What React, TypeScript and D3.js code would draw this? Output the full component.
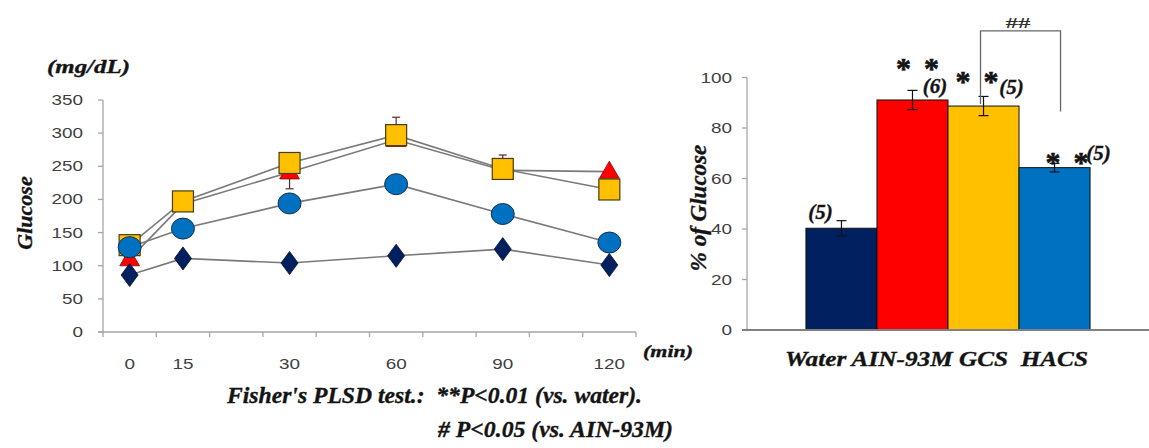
import React from "react";
import * as d3 from "d3";

// ---------- data: left chart (blood glucose, mg/dL) ----------
const timeSlots = ["0", "15", "", "30", "", "60", "", "90", "", "120"];
const times = [0, 15, 30, 60, 90, 120];
const waterGlu = [86, 111, 104, 115, 125, 101];
const ainGlu = [110, 193, 241, 290, 244, 242];
const gcsGlu = [131, 197, 255, 297, 246, 215];
const hacsGlu = [128, 156, 194, 223, 178, 135];
const ainErrPlus = [0, 0, 0, 34, 23, 0];
const ainErrMinus = [0, 0, 25, 0, 0, 0];
const gluTicks = [0, 50, 100, 150, 200, 250, 300, 350];

// ---------- data: right chart (% of glucose) ----------
const groups = ["Water", "AIN-93M", "GCS", "HACS"];
const pctGlucose = [40.3, 91.1, 88.7, 64.3];
const pctErr = [3.0, 3.8, 3.8, 1.7];
const nLabels = ["(5)", "(6)", "(5)", "(5)"];
const sigLabels = ["", "**", "**", "**"];
const pctTicks = [0, 20, 40, 60, 80, 100];

const SERIF = "'Liberation Serif', 'Times New Roman', serif";
const SANS = "'Liberation Sans', Arial, sans-serif";
const AXIS = "#a6a6a6";
const LINE = "#7a7a7a";
const INK = "#141414";

const NAVY = "#002060";
const RED = "#ff0000";
const GOLD = "#ffc000";
const BLUE = "#0070c0";

const bi = {
  fontFamily: SERIF,
  fontStyle: "italic" as const,
  fontWeight: "bold" as const,
  fill: INK,
  stroke: INK,
  strokeWidth: 0.35,
};

export default function App() {
  // left chart scales
  const x = d3.scaleBand<number>().domain(d3.range(timeSlots.length)).range([103, 636]);
  const y = d3.scaleLinear().domain([0, 350]).range([332, 100]);
  const cx = (t: number) => (x(timeSlots.indexOf(String(t))) as number) + x.bandwidth() / 2;
  const line = d3
    .line<number>()
    .x((_, i) => cx(times[i]))
    .y((d) => y(d));

  // right chart scales
  const yb = d3.scaleLinear().domain([0, 100]).range([330, 77.5]);
  const xb = d3.scaleBand<string>().domain(groups).range([747, 1149]).paddingOuter(0.83);
  const barColors = [NAVY, RED, GOLD, BLUE];
  const bcx = (g: string) => (xb(g) as number) + xb.bandwidth() / 2;

  const diamond = d3.symbol(d3.symbolDiamond, 190)();
  const triangle = d3.symbol(d3.symbolTriangle, 170)();

  const ainIdx = groups.indexOf("AIN-93M");
  // annotation offsets (layout) relative to bar centre / error-bar top
  const nOff = [
    [-21, -2],
    [22.5, 3],
    [28, -2],
    [44, -3],
  ];
  const sOff = [
    [0, 0],
    [5, -12],
    [-6.5, -5],
    [12.5, 8.7],
  ];

  return (
    <svg
      width={1149}
      height={448}
      style={{ position: "absolute", left: 0, top: 0, background: "#fff" }}
    >
      {/* ================= LEFT CHART ================= */}
      <text x={47} y={73} fontSize={19} textLength={83} lengthAdjust="spacingAndGlyphs" {...bi}>
        (mg/dL)
      </text>
      <text
        transform={`translate(32,213) rotate(-90)`}
        textAnchor="middle"
        fontSize={22}
        {...bi}
      >
        Glucose
      </text>

      {/* y axis */}
      <line x1={103} x2={103} y1={y(350)} y2={y(0)} stroke={AXIS} strokeWidth={1.3} />
      {gluTicks.map((t) => (
        <g key={"gy" + t}>
          <line x1={98} x2={103} y1={y(t)} y2={y(t)} stroke={AXIS} strokeWidth={1.3} />
          <text
            transform={`translate(83,${y(t) + 5}) scale(1.35,1)`}
            textAnchor="end"
            fontFamily={SANS}
            fontSize={14}
            fill="#404040"
          >
            {t}
          </text>
        </g>
      ))}

      {/* x axis */}
      <line x1={98} x2={636} y1={y(0)} y2={y(0)} stroke={AXIS} strokeWidth={1.3} />
      {d3.range(timeSlots.length + 1).map((i) => {
        const xx = 103 + i * x.step();
        return <line key={"xt" + i} x1={xx} x2={xx} y1={y(0)} y2={y(0) + 5} stroke={AXIS} strokeWidth={1.3} />;
      })}
      {timeSlots.map((s, i) =>
        s ? (
          <text
            key={"xl" + i}
            transform={`translate(${(x(i) as number) + x.bandwidth() / 2},369) scale(1.35,1)`}
            textAnchor="middle"
            fontFamily={SANS}
            fontSize={14}
            fill="#404040"
          >
            {s}
          </text>
        ) : null
      )}
      <text x={643} y={357} fontSize={16} textLength={50} lengthAdjust="spacingAndGlyphs" {...bi}>
        (min)
      </text>

      {/* lines */}
      {[ainGlu, gcsGlu, hacsGlu, waterGlu].map((s, k) => (
        <path key={"ln" + k} d={line(s) as string} fill="none" stroke={LINE} strokeWidth={1.6} />
      ))}

      {/* AIN-93M error bars */}
      {times.map((t, i) => (
        <g key={"eb" + i} stroke="#5a2a2a" strokeWidth={1.2}>
          {ainErrPlus[i] > 0 && (
            <>
              <line x1={cx(t)} x2={cx(t)} y1={y(ainGlu[i])} y2={y(ainGlu[i] + ainErrPlus[i])} />
              <line x1={cx(t) - 4} x2={cx(t) + 4} y1={y(ainGlu[i] + ainErrPlus[i])} y2={y(ainGlu[i] + ainErrPlus[i])} />
            </>
          )}
          {ainErrMinus[i] > 0 && (
            <>
              <line x1={cx(t)} x2={cx(t)} y1={y(ainGlu[i])} y2={y(ainGlu[i] - ainErrMinus[i])} />
              <line x1={cx(t) - 4} x2={cx(t) + 4} y1={y(ainGlu[i] - ainErrMinus[i])} y2={y(ainGlu[i] - ainErrMinus[i])} />
            </>
          )}
        </g>
      ))}

      {/* markers */}
      {times.map((t, i) => (
        <path
          key={"tri" + i}
          d={triangle as string}
          transform={`translate(${cx(t)},${y(ainGlu[i]) + 1})`}
          fill={RED}
          stroke="#7a1010"
          strokeWidth={0.8}
        />
      ))}
      {times.map((t, i) => (
        <rect
          key={"sq" + i}
          x={cx(t) - 10.5}
          y={y(gcsGlu[i]) - 10.5}
          width={21}
          height={21}
          fill={GOLD}
          stroke="#4a3a10"
          strokeWidth={1.2}
        />
      ))}
      {times.map((t, i) => (
        <ellipse
          key={"ci" + i}
          cx={cx(t)}
          cy={y(hacsGlu[i])}
          rx={11.5}
          ry={10.5}
          fill={BLUE}
          stroke="#1a3050"
          strokeWidth={1}
        />
      ))}
      {times.map((t, i) => (
        <path
          key={"di" + i}
          d={diamond as string}
          transform={`translate(${cx(t)},${y(waterGlu[i])}) scale(1.15,0.9)`}
          fill={NAVY}
          stroke="#0a0f2a"
          strokeWidth={0.8}
        />
      ))}

      {/* ================= RIGHT CHART ================= */}
      <text
        transform={`translate(706,208) rotate(-90)`}
        textAnchor="middle"
        fontSize={23}
        {...bi}
      >
        % of Glucose
      </text>
      <line x1={747} x2={747} y1={yb(100)} y2={yb(0)} stroke={AXIS} strokeWidth={1.3} />
      {pctTicks.map((t) => (
        <g key={"py" + t}>
          <line x1={742} x2={747} y1={yb(t)} y2={yb(t)} stroke={AXIS} strokeWidth={1.3} />
          <text
            transform={`translate(732,${yb(t) + 5}) scale(1.35,1)`}
            textAnchor="end"
            fontFamily={SANS}
            fontSize={14}
            fill="#404040"
          >
            {t}
          </text>
        </g>
      ))}

      {groups.map((g, i) => (
        <rect
          key={"bar" + g}
          x={xb(g)}
          y={yb(pctGlucose[i])}
          width={xb.bandwidth()}
          height={yb(0) - yb(pctGlucose[i])}
          fill={barColors[i]}
          stroke="#111"
          strokeWidth={1}
        />
      ))}
      <line x1={742} x2={1149} y1={yb(0)} y2={yb(0)} stroke="#808080" strokeWidth={2} />

      {groups.map((g, i) => {
        const c = bcx(g);
        const top = yb(pctGlucose[i] + pctErr[i]);
        const bot = yb(pctGlucose[i] - pctErr[i]);
        return (
          <g key={"be" + g} stroke="#111" strokeWidth={1.2}>
            <line x1={c} x2={c} y1={top} y2={bot} />
            <line x1={c - 5} x2={c + 5} y1={top} y2={top} />
            <line x1={c - 5} x2={c + 5} y1={bot} y2={bot} />
          </g>
        );
      })}

      {groups.map((g, i) => (
        <text
          key={"n" + g}
          x={bcx(g) + nOff[i][0]}
          y={yb(pctGlucose[i] + pctErr[i]) + nOff[i][1]}
          textAnchor="middle"
          fontSize={21}
          {...bi}
        >
          {nLabels[i]}
        </text>
      ))}
      {groups.map((g, i) =>
        sigLabels[i]
          ? sigLabels[i].split("").map((s, k) => (
              <text
                key={"s" + g + k}
                x={bcx(g) + sOff[i][0] + (k - 0.5) * 28}
                y={yb(pctGlucose[i] + pctErr[i]) + sOff[i][1]}
                textAnchor="middle"
                fontFamily={SERIF}
                fontWeight="bold"
                fontSize={30}
                fill={INK}
                stroke={INK}
                strokeWidth={0.6}
              >
                {s}
              </text>
            ))
          : null
      )}

      {/* significance bracket GCS vs HACS */}
      <path
        d={`M${bcx("GCS") - 3},${yb(89.5)} V${yb(118.5)} H${bcx("HACS") + 6} V${yb(86.5)}`}
        fill="none"
        stroke="#666"
        strokeWidth={1.3}
      />
      <text
        x={(bcx("GCS") + bcx("HACS")) / 2 - 1}
        y={28}
        textAnchor="middle"
        fontFamily={SERIF}
        fontWeight="bold"
        fontSize={15}
        textLength={25}
        lengthAdjust="spacingAndGlyphs"
        fill="#333"
      >
        ##
      </text>

      <text
        x={785}
        y={366}
        fontSize={22}
        textLength={303}
        lengthAdjust="spacingAndGlyphs"
        style={{ whiteSpace: "pre" }}
        {...bi}
      >
        {groups.slice(0, 3).join(" ") + "  " + groups[3]}
      </text>

      {/* footer */}
      <text
        x={227}
        y={403}
        fontSize={23}
        textLength={415}
        lengthAdjust="spacingAndGlyphs"
        style={{ whiteSpace: "pre" }}
        {...bi}
      >
        {"Fisher's PLSD test.:  **P<0.01 (vs. water)."}
      </text>
      <text x={438} y={437} fontSize={23} textLength={235} lengthAdjust="spacingAndGlyphs" {...bi}>
        {"# P<0.05 (vs. " + groups[ainIdx] + ")"}
      </text>
    </svg>
  );
}
